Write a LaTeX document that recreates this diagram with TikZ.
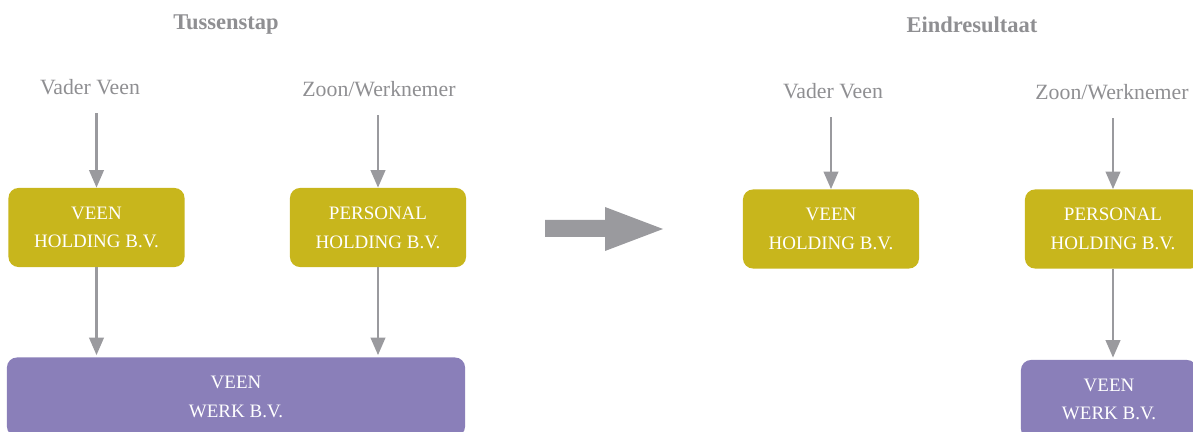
\documentclass[tikz,border=0pt]{standalone}
\usepackage{fontspec}
\setmainfont{Liberation Serif}
\usetikzlibrary{arrows.meta, positioning}
\definecolor{holdgold}{HTML}{C8B61C}
\definecolor{werkpurple}{HTML}{8A7FB9}
\definecolor{linegray}{HTML}{9A9A9E}
\definecolor{textgray}{HTML}{8F8F92}

\begin{document}
\begin{tikzpicture}[
            x = 0.025cm,
            y = -0.025cm,
            > = {Triangle[width=0.36cm, length=0.44cm]},
            holding/.style = {
                fill = holdgold,
                rounded corners = 0.25cm,
                minimum width = 4.4cm,
                minimum height = 1.975cm,
                inner sep = 0pt,
                align = center,
                text = white,
                font = \fontsize{13.5}{20.5}\selectfont
            },
            werk/.style = {holding, fill = werkpurple},
            who/.style = {text = textgray, inner sep = 0pt,
                font = \fontsize{15.5}{18}\selectfont},
            stage/.style = {text = textgray, inner sep = 0pt,
                font = \bfseries\fontsize{16}{18}\selectfont},
            link/.style = {->, draw = linegray, line width = 0.07cm}
        ]
        \useasboundingbox (0,0) rectangle (1193,432);
        \clip (0,0) rectangle (1193,432);

        % tussenstap
        \node[stage] (tussen) at (226,25) {Tussenstap};
        \node[holding] (veen1) at (96.5,227.5) {VEEN\\HOLDING B.V.};
        \node[holding] (pers1) at (378,227.5) {PERSONAL\\HOLDING B.V.};
        \node[werk, minimum width = 11.45cm] (werk1) at (236,397) {VEEN\\WERK B.V.};
        \node[who] (vader1) at (90,87) {Vader Veen};
        \node[who] (zoon1) at (379,89) {Zoon/Werknemer};

        \draw[link, shorten <= 0.45cm] (vader1.south -| veen1.north) -- (veen1.north);
        \draw[link, shorten <= 0.45cm] (zoon1.south -| pers1.north) -- (pers1.north);
        \draw[link, shorten >= 0.05cm] (veen1.south) -- (veen1.south |- werk1.north);
        \draw[link, shorten >= 0.05cm] (pers1.south) -- (pers1.south |- werk1.north);

        % overgang
        \fill[linegray] (545,220) -- (605,220) -- (605,207) -- (663,229)
            -- (605,251) -- (605,237) -- (545,237) -- cycle;

        % eindresultaat
        \node[stage] (eind) at (972,25) {Eindresultaat};
        \node[holding] (veen2) at (831,229) {VEEN\\HOLDING B.V.};
        \node[holding] (pers2) at (1113,229) {PERSONAL\\HOLDING B.V.};
        \node[werk] (werk2) at (1109,399.5) {VEEN\\WERK B.V.};
        \node[who] (vader2) at (833,91) {Vader Veen};
        \node[who] (zoon2) at (1112,92) {Zoon/Werknemer};

        \draw[link, shorten <= 0.45cm] (vader2.south -| veen2.north) -- (veen2.north);
        \draw[link, shorten <= 0.45cm] (zoon2.south -| pers2.north) -- (pers2.north);
        \draw[link, shorten >= 0.05cm] (pers2.south) -- (pers2.south |- werk2.north);
\end{tikzpicture}
\end{document}
